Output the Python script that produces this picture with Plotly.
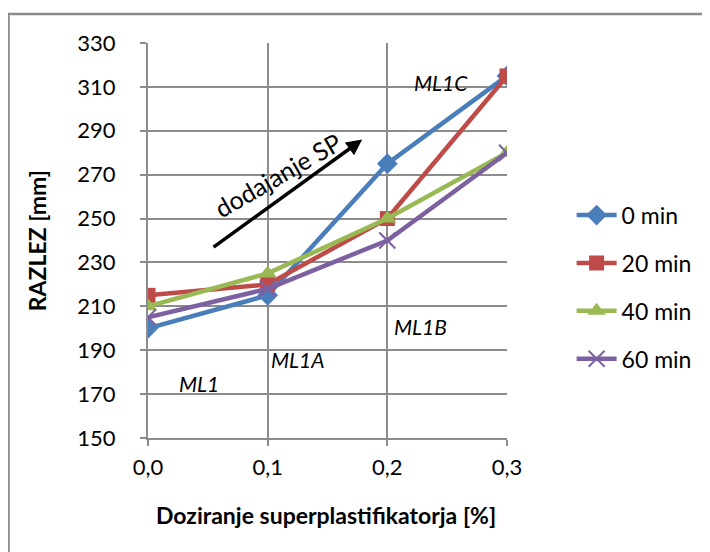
import plotly.graph_objects as go

# doziranje SP [%] and razlez [mm] for each time
doziranje = [0.0, 0.1, 0.2, 0.3]
razlez_0min = [200, 215, 275, 315]
razlez_20min = [215, 220, 250, 315]
razlez_40min = [210, 225, 250, 280]
razlez_60min = [205, 218, 240, 280]

series_names = ["0 min", "20 min", "40 min", "60 min"]
x_ticks = [0.0, 0.1, 0.2, 0.3]
x_ticktext = ["0,0", "0,1", "0,2", "0,3"]
y_ticks = [150, 170, 190, 210, 230, 250, 270, 290, 310, 330]

mix_labels = ["ML1", "ML1A", "ML1B", "ML1C"]
mix_x = [0.043, 0.125, 0.228, 0.245]
mix_y = [175, 186, 201, 312]

FONT = "Lato"
GRID = "#8c8c8c"

styles = [
    ("#4a7ebb", dict(symbol="diamond", size=16)),
    ("#be4b48", dict(symbol="square", size=15)),
    ("#98b954", dict(symbol="triangle-up", size=16)),
    ("#7d60a0", dict(symbol="x-thin", size=16, line=dict(width=2, color="#7d60a0"))),
]
data = [razlez_0min, razlez_20min, razlez_40min, razlez_60min]

fig = go.Figure()
for name, vals, (col, mk) in zip(series_names, data, styles):
    fig.add_trace(go.Scatter(
        x=doziranje, y=vals, name=name, mode="lines+markers",
        line=dict(color=col, width=4.5),
        marker=dict(color=col, **mk),
        legendgroup=name,
    ))

for lab, lx, ly in zip(mix_labels, mix_x, mix_y):
    fig.add_annotation(x=lx, y=ly, text="<i>" + lab + "</i>", showarrow=False,
                       font=dict(family=FONT, size=21, color="black"))

# arrow "dodajanje SP"
fig.add_annotation(x=0.179, y=286, ax=0.0535, ay=236.5, xref="x", yref="y",
                   axref="x", ayref="y", text="", showarrow=True,
                   arrowhead=2, arrowsize=0.9, arrowwidth=3.5, arrowcolor="black")
fig.add_annotation(x=0.108, y=270, text="dodajanje SP", showarrow=False,
                   textangle=-30, font=dict(family=FONT, size=25, color="black"))

# axis titles
fig.add_annotation(x=0.496, y=-0.195, xref="paper", yref="paper",
                   xanchor="center", yanchor="middle",
                   text="<b>Doziranje superplastifikatorja [%]</b>", showarrow=False,
                   font=dict(family=FONT, size=23, color="black"))
fig.add_annotation(x=-0.31, y=0.5, xref="paper", yref="paper", textangle=-90,
                   xanchor="center", yanchor="middle",
                   text="<b>RAZLEZ [mm]</b>", showarrow=False,
                   font=dict(family=FONT, size=23, color="black"))

# outer chart frame
fig.add_shape(type="rect", xref="paper", yref="paper",
              x0=-0.3886, y0=-0.35, x1=1.62, y1=1.0734,
              line=dict(color=GRID, width=2.5))

fig.update_xaxes(range=[0, 0.3], tickvals=x_ticks, ticktext=x_ticktext,
                 showgrid=True, gridcolor=GRID, gridwidth=2,
                 showline=True, linecolor=GRID, linewidth=2,
                 ticks="outside", tickcolor=GRID, ticklen=6, tickwidth=2,
                 ticklabelstandoff=3,
                 zeroline=False, tickfont=dict(family=FONT, size=22, color="black"))
fig.update_yaxes(range=[150, 330], tickvals=y_ticks,
                 showgrid=True, gridcolor=GRID, gridwidth=2,
                 showline=True, linecolor=GRID, linewidth=2,
                 ticks="outside", tickcolor=GRID, ticklen=6, tickwidth=2,
                 ticklabelstandoff=20,
                 zeroline=False, tickfont=dict(family=FONT, size=22, color="black"))

fig.update_layout(
    width=702, height=544,
    margin=dict(l=140, r=203, t=35, b=114),
    paper_bgcolor="white", plot_bgcolor="white",
    font=dict(family=FONT, color="black"),
    showlegend=True,
    legend=dict(x=1.18, y=0.382, xanchor="left", yanchor="middle",
                traceorder="grouped", tracegroupgap=15,
                font=dict(family=FONT, size=23, color="black"),
                bgcolor="rgba(0,0,0,0)", itemwidth=40),
)

fig.write_html("out.html")
